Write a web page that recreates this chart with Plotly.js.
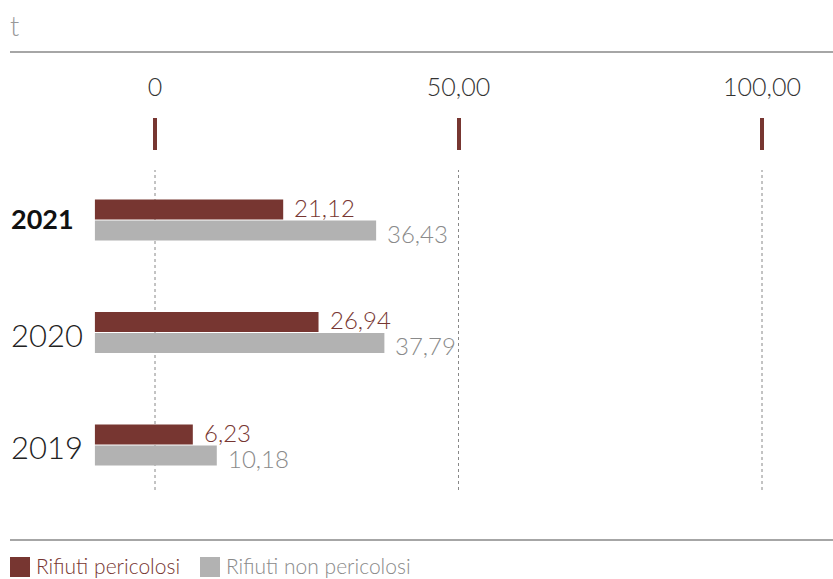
<!DOCTYPE html>
<html>
<head>
<meta charset="utf-8">
<script src="https://cdn.plot.ly/plotly-3.0.1.min.js"></script>
<style>html,body{margin:0;padding:0;background:#fff;}#chart{width:833px;height:579px;}</style>
</head>
<body>
<div id="chart"></div>
<script>
// ---- data ----
const years = ['2019', '2020', '2021'];
const pericolosi = [6.23, 26.94, 21.12];
const nonPericolosi = [10.18, 37.79, 36.43];
const seriesNames = ['Rifiuti pericolosi', 'Rifiuti non pericolosi'];
const tickVals = [0, 50, 100];
const tickText = ['0', '50,00', '100,00'];
const unitLabel = 't';
const highlightYear = '2021';

// ---- style ----
const MAROON = '#773631';
const GRAY = '#b2b2b2';
const GRAY_TEXT = '#8a8a8a';
const FONT = 'Lato, "Open Sans", sans-serif';
const W = 833, H = 579;
const PLOT_TOP = 118, PLOT_BOTTOM = 490;
const PX_PER_UNIT = 6.07, ZERO_PX = 155;
const BAR_START = -9.9;
const fmt = v => v.toFixed(2).replace('.', ',');
const ph = py => (PLOT_BOTTOM - py) / (PLOT_BOTTOM - PLOT_TOP); // pixel -> paper y
const pw = px => px / W;

const traces = [
  {type: 'bar', orientation: 'h', y: years, x: pericolosi.map(v => v - BAR_START), base: BAR_START,
   name: seriesNames[0], marker: {color: MAROON}, hoverinfo: 'skip'},
  {type: 'bar', orientation: 'h', y: years, x: nonPericolosi.map(v => v - BAR_START), base: BAR_START,
   name: seriesNames[1], marker: {color: GRAY}, hoverinfo: 'skip'}
];
// in horizontal grouped bars, first trace is lower; swap so maroon is above
traces.reverse();

const annotations = [];
years.forEach((yr, i) => {
  annotations.push({x: pericolosi[i], y: i, xref: 'x', yref: 'y', text: fmt(pericolosi[i]),
    showarrow: false, xanchor: 'left', yanchor: 'middle', xshift: 9, yshift: 13,
    font: {family: FONT, size: 24, color: MAROON, weight: 300}});
  annotations.push({x: nonPericolosi[i], y: i, xref: 'x', yref: 'y', text: fmt(nonPericolosi[i]),
    showarrow: false, xanchor: 'left', yanchor: 'middle', xshift: 9, yshift: -13,
    font: {family: FONT, size: 24, color: GRAY_TEXT, weight: 300}});
  const hl = yr === highlightYear;
  annotations.push({x: pw(9), y: i, xref: 'paper', yref: 'y', text: hl ? '<b>' + yr + '</b>' : yr,
    showarrow: false, xanchor: 'left', yanchor: 'middle', yshift: hl ? 2 : -2,
    font: {family: FONT, size: hl ? 27 : 31, color: hl ? '#111' : '#222', weight: hl ? 700 : 300}});
});
annotations.push({x: pw(8), y: ph(25), xref: 'paper', yref: 'paper', text: unitLabel, showarrow: false,
  xanchor: 'left', yanchor: 'middle', font: {family: FONT, size: 27, color: '#999', weight: 300}});

// legend (custom)
const legendItems = [
  {name: seriesNames[0], color: MAROON, text: MAROON, x: 10},
  {name: seriesNames[1], color: GRAY, text: GRAY_TEXT, x: 200}
];
const shapes = [];
legendItems.forEach(it => {
  shapes.push({type: 'rect', xref: 'paper', yref: 'paper', x0: pw(it.x), x1: pw(it.x + 20),
    y0: ph(577), y1: ph(557), fillcolor: it.color, line: {width: 0}});
  annotations.push({x: pw(it.x + 25), y: ph(565), xref: 'paper', yref: 'paper', text: it.name,
    showarrow: false, xanchor: 'left', yanchor: 'middle', borderpad: 0,
    font: {family: FONT, size: 21, color: it.text, weight: 300}});
});
// separator lines
[52, 540].forEach(py => shapes.push({type: 'line', xref: 'paper', yref: 'paper', x0: pw(10), x1: 1,
  y0: ph(py), y1: ph(py), line: {color: '#888', width: 1.5}}));
// dotted gridlines
tickVals.forEach(v => shapes.push({type: 'line', xref: 'x', yref: 'paper', x0: v, x1: v,
  y0: ph(490), y1: ph(170), line: {color: '#888', width: 1, dash: 'dot'}, layer: 'below'}));

const layout = {
  width: W, height: H,
  margin: {l: 0, r: 0, t: PLOT_TOP, b: H - PLOT_BOTTOM, pad: 0},
  paper_bgcolor: '#fff', plot_bgcolor: '#fff',
  showlegend: false,
  barmode: 'group', bargap: 0.626, bargroupgap: 0.05,
  xaxis: {
    range: [-ZERO_PX / PX_PER_UNIT, (W - ZERO_PX) / PX_PER_UNIT],
    side: 'top', tickvals: tickVals, ticktext: tickText,
    ticks: 'inside', ticklen: 32, tickwidth: 4, tickcolor: MAROON,
    ticklabelstandoff: 16,
    showgrid: false, zeroline: false, showline: false, fixedrange: true,
    tickfont: {family: FONT, size: 25, color: '#333', weight: 300}
  },
  yaxis: {
    type: 'category', categoryarray: years, range: [-0.4, 2.907],
    showticklabels: false, showgrid: false, zeroline: false, ticks: '', fixedrange: true
  },
  annotations: annotations,
  shapes: shapes
};

Plotly.newPlot('chart', traces, layout, {displayModeBar: false, staticPlot: true});
</script>
</body>
</html>
